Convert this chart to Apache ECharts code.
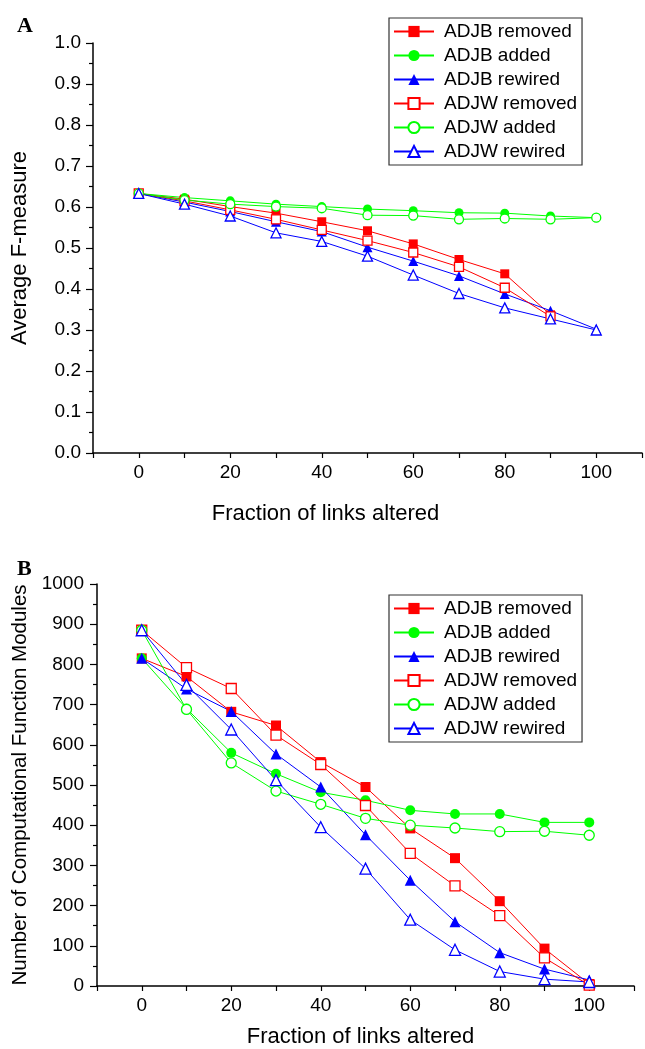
<!DOCTYPE html>
<html>
<head>
<meta charset="utf-8">
<script src="https://cdn.jsdelivr.net/npm/echarts@6/dist/echarts.min.js"></script>
<style>html,body{margin:0;padding:0;background:#fff;}#c{width:645px;height:1049px;}</style>
</head>
<body>
<div id="c"></div>
<script>
const xs = [0, 10, 20, 30, 40, 50, 60, 70, 80, 90, 100];
const seriesNames = ['ADJB removed', 'ADJB added', 'ADJB rewired', 'ADJW removed', 'ADJW added', 'ADJW rewired'];
const xTickLabels = ['0', '20', '40', '60', '80', '100'];

// Panel A: Average F-measure
const topAdjbRemoved = [0.633, 0.619, 0.601, 0.585, 0.564, 0.542, 0.510, 0.472, 0.437, 0.337];
const topAdjbAdded   = [0.633, 0.623, 0.615, 0.607, 0.601, 0.595, 0.591, 0.586, 0.585, 0.578, 0.574];
const topAdjbRewired = [0.633, 0.612, 0.589, 0.564, 0.540, 0.502, 0.468, 0.432, 0.388, 0.347, 0.302];
const topAdjwRemoved = [0.633, 0.615, 0.593, 0.570, 0.544, 0.518, 0.489, 0.454, 0.403, 0.333];
const topAdjwAdded   = [0.633, 0.617, 0.607, 0.601, 0.597, 0.580, 0.579, 0.570, 0.572, 0.570, 0.574];
const topAdjwRewired = [0.633, 0.607, 0.578, 0.537, 0.516, 0.480, 0.434, 0.389, 0.354, 0.327, 0.300];

// Panel B: Number of Computational Function Modules
const botAdjbRemoved = [815, 770, 682, 648, 557, 495, 392, 318, 211, 93, 5];
const botAdjbAdded   = [815, 690, 580, 528, 482, 462, 437, 428, 428, 407, 407];
const botAdjbRewired = [815, 739, 683, 577, 495, 376, 263, 160, 83, 42, 15];
const botAdjwRemoved = [885, 792, 740, 624, 551, 449, 330, 249, 175, 70, 2];
const botAdjwAdded   = [885, 688, 555, 485, 452, 417, 400, 393, 384, 385, 375];
const botAdjwRewired = [885, 749, 638, 512, 395, 292, 165, 90, 36, 17, 10];

const RED = '#ff0000', GREEN = '#00ff00', BLUE = '#0000ff';
const FONT = "'Liberation Sans', Arial, sans-serif";

const styles = [
  {color: RED, symbol: 'rect', filled: true},
  {color: GREEN, symbol: 'circle', filled: true},
  {color: BLUE, symbol: 'triangle', filled: true},
  {color: RED, symbol: 'rect', filled: false},
  {color: GREEN, symbol: 'circle', filled: false},
  {color: BLUE, symbol: 'triangle', filled: false}
];

function mk(i, vals, gi, size) {
  const st = styles[i];
  return {
    name: seriesNames[i],
    type: 'line',
    xAxisIndex: gi, yAxisIndex: gi,
    data: vals.map((v, k) => [xs[k], v]),
    symbol: st.symbol,
    symbolSize: st.symbol === 'triangle' ? size + 1 : size,
    showAllSymbol: true,
    animation: false,
    lineStyle: {color: st.color, width: 1},
    itemStyle: st.filled ? {color: st.color, borderColor: st.color, borderWidth: 0}
                         : {color: '#ffffff', borderColor: st.color, borderWidth: 1.3},
    emphasis: {disabled: true}
  };
}

function xAxis(gi, gap, pad) {
  return {
    type: 'value', gridIndex: gi, min: -10, max: 110, interval: 10,
    name: 'Fraction of links altered', nameLocation: 'middle', nameGap: gap,
    nameTextStyle: {fontFamily: FONT, fontSize: 22, color: '#000', padding: pad},
    axisLine: {show: true, onZero: false, lineStyle: {color: '#000', width: 1.5}},
    axisTick: {show: true, inside: false, length: 5, lineStyle: {color: '#000', width: 1.2}},
    axisLabel: {fontFamily: FONT, fontSize: 19, color: '#000', margin: 10,
      formatter: v => xTickLabels.indexOf(String(v)) >= 0 ? String(v) : ''},
    splitLine: {show: false}
  };
}

function yAxis(gi, opts) {
  return Object.assign({
    type: 'value', gridIndex: gi, nameLocation: 'middle', nameRotate: 90,
    axisLine: {show: true, onZero: false, lineStyle: {color: '#000', width: 1.5}},
    axisTick: {show: true, inside: false, length: 7, lineStyle: {color: '#000', width: 1.2}},
    minorTick: {show: true, splitNumber: 2, length: 4, lineStyle: {color: '#000', width: 1.2}},
    splitLine: {show: false},
    minorSplitLine: {show: false}
  }, opts);
}

function legend(top) {
  return {
    data: seriesNames, orient: 'vertical', left: 389, top: top,
    itemWidth: 40, itemHeight: 14, itemGap: 5,
    padding: [4, 5, 4, 4],
    borderColor: '#333', borderWidth: 1.2, backgroundColor: '#fff',
    textStyle: {fontFamily: FONT, fontSize: 19, color: '#000', lineHeight: 19, padding: [0, 0, 0, 5]},
    selectedMode: false
  };
}

const chart = echarts.init(document.getElementById('c'), null, {renderer: 'canvas'});
chart.setOption({
  animation: false,
  backgroundColor: '#fff',
  title: [
    {text: 'A', left: 12, top: 10, textStyle: {fontFamily: "'Liberation Serif', 'Times New Roman', serif", fontWeight: 'bold', fontSize: 22, color: '#000'}},
    {text: 'B', left: 12, top: 553, textStyle: {fontFamily: "'Liberation Serif', 'Times New Roman', serif", fontWeight: 'bold', fontSize: 22, color: '#000'}}
  ],
  grid: [
    {left: 93, top: 43, width: 552, height: 410, containLabel: false},
    {left: 97, top: 584, width: 537, height: 403, containLabel: false}
  ],
  xAxis: [xAxis(0, 50, [0, 84, 0, 0]), xAxis(1, 40, [0, 10, 0, 0])],
  yAxis: [
    yAxis(0, {min: 0, max: 1, interval: 0.1, name: 'Average F-measure', nameGap: 62,
      nameTextStyle: {fontFamily: FONT, fontSize: 22, color: '#000'},
      axisLabel: {fontFamily: FONT, fontSize: 19, color: '#000', margin: 12, formatter: v => v.toFixed(1)}}),
    yAxis(1, {min: 0, max: 1000, interval: 100, name: 'Number of Computational Function Modules', nameGap: 65,
      nameTextStyle: {fontFamily: FONT, fontSize: 20.5, color: '#000'},
      axisLabel: {fontFamily: FONT, fontSize: 19, color: '#000', margin: 13, formatter: v => String(v)}})
  ],
  legend: [legend(18), legend(595)],
  series: [
    mk(0, topAdjbRemoved, 0, 9), mk(1, topAdjbAdded, 0, 9), mk(2, topAdjbRewired, 0, 9),
    mk(3, topAdjwRemoved, 0, 9), mk(4, topAdjwAdded, 0, 9), mk(5, topAdjwRewired, 0, 9),
    mk(0, botAdjbRemoved, 1, 10), mk(1, botAdjbAdded, 1, 10), mk(2, botAdjbRewired, 1, 10),
    mk(3, botAdjwRemoved, 1, 10), mk(4, botAdjwAdded, 1, 10), mk(5, botAdjwRewired, 1, 10)
  ]
});
</script>
</body>
</html>
